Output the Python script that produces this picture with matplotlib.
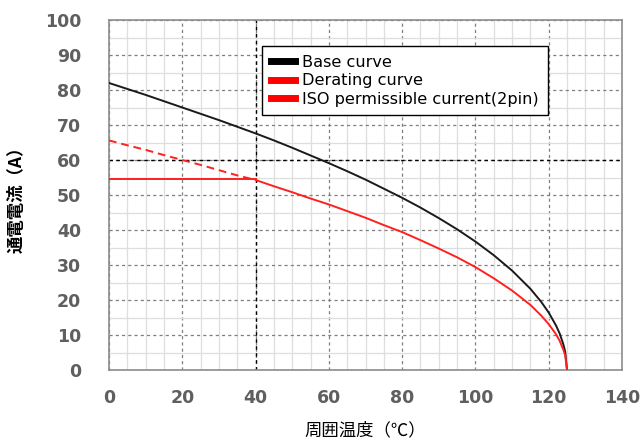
import matplotlib
matplotlib.use("Agg")
import matplotlib.pyplot as plt
from matplotlib.ticker import MultipleLocator
from matplotlib.lines import Line2D

plt.rcParams['font.family'] = ['DejaVu Sans', 'Noto Sans CJK JP']

# Data
temp = [0, 5, 10, 15, 20, 25, 30, 35, 40, 45, 50, 55, 60, 65, 70, 75, 80, 85,
        90, 95, 100, 105, 110, 115, 118, 120, 122, 123, 124, 124.5, 125]
base_curve = [82.0, 80.3, 78.6, 76.8, 75.0, 73.2, 71.4, 69.5, 67.6, 65.6, 63.5,
              61.3, 59.1, 56.8, 54.4, 51.8, 49.2, 46.4, 43.4, 40.2, 36.7, 32.8,
              28.4, 23.2, 19.4, 16.4, 12.7, 10.4, 7.3, 5.2, 0.0]
derating_curve = [65.6, 64.2, 62.9, 61.4, 60.0, 58.6, 57.1, 55.6, 54.3, 52.5, 50.8,
                  49.0, 47.3, 45.4, 43.5, 41.4, 39.4, 37.1, 34.7, 32.2, 29.4, 26.2,
                  22.7, 18.6, 15.5, 13.1, 10.2, 8.3, 5.8, 4.2, 0.0]
iso_temp = [0, 40]
iso_current = [54.5, 54.5]
split_temp = 40

xticks = [0, 20, 40, 60, 80, 100, 120, 140]
yticks = [0, 10, 20, 30, 40, 50, 60, 70, 80, 90, 100]
legend_labels = ['Base curve', 'Derating curve', 'ISO permissible current(2pin)']

fig = plt.figure(figsize=(6.44, 4.43), dpi=100)
ax = fig.add_axes([109/644, 1 - 370/443, 513/644, 350/443])

ax.set_xlim(0, 140)
ax.set_ylim(0, 100)
ax.set_xticks(xticks)
ax.set_yticks(yticks)
ax.xaxis.set_minor_locator(MultipleLocator(5))
ax.yaxis.set_minor_locator(MultipleLocator(5))

ax.grid(which='minor', color='#dedede', lw=0.9, ls='-', zorder=0)
ax.grid(which='major', color='#7f7f7f', lw=0.9, ls=(0, (2.5, 2.5)), zorder=1)
ax.axvline(40, color='black', lw=1.0, ls=(0, (2.5, 2.5)), zorder=2)
ax.axhline(60, color='black', lw=1.0, ls=(0, (2.5, 2.5)), zorder=2)

for s in ax.spines.values():
    s.set_color('#8c8c8c')
    s.set_linewidth(1.2)

ax.tick_params(which='both', length=0)
ax.tick_params(axis='y', pad=20)
ax.tick_params(axis='x', pad=14)
for lab in ax.get_xticklabels() + ax.get_yticklabels():
    lab.set_fontweight('bold')
    lab.set_color('#5f5f5f')
    lab.set_fontsize(12.5)

ax.plot(temp, base_curve, color='#1a1a1a', lw=1.4, zorder=4)
dash_t = [t for t in temp if t <= split_temp]
dash_v = derating_curve[:len(dash_t)]
sol_t = [t for t in temp if t >= split_temp]
sol_v = derating_curve[len(temp) - len(sol_t):]
ax.plot(dash_t, dash_v, color='#ff2020', lw=1.4, ls=(0, (4, 2.5)), zorder=4)
ax.plot(sol_t, sol_v, color='#ff2020', lw=1.4, zorder=4)
ax.plot(iso_temp, iso_current, color='#ff2020', lw=1.4, zorder=4)

handles = [Line2D([], [], color='black', lw=5),
           Line2D([], [], color='#ff0000', lw=5),
           Line2D([], [], color='#ff0000', lw=5)]
leg = ax.legend(handles, legend_labels, loc='upper left', bbox_to_anchor=(0.298, 0.925),
                fontsize=11.6, frameon=True, fancybox=False, framealpha=1,
                edgecolor='black', handlelength=1.5, handletextpad=0.45,
                labelspacing=0.2, borderpad=0.55, borderaxespad=0)
leg.get_frame().set_linewidth(1.0)
leg.set_zorder(10)

ax.set_xlabel('周囲温度（℃）', fontsize=12.5, family=['Noto Sans CJK JP', 'DejaVu Sans'],
              labelpad=10)
ax.set_ylabel('通電電流（A）', fontsize=12.5, family=['Noto Sans CJK JP', 'DejaVu Sans'],
              labelpad=14, fontweight='bold')

fig.savefig('out.png', dpi=100)
